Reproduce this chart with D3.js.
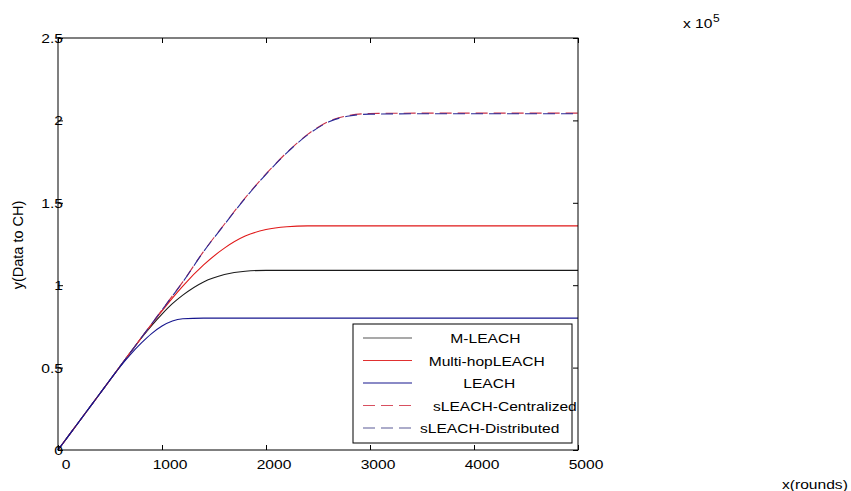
<!DOCTYPE html>
<html><head><meta charset="utf-8">
<script src="https://cdn.jsdelivr.net/npm/d3@7/dist/d3.min.js"></script>
<style>
html,body{margin:0;padding:0;background:#fff;}
text{font-family:"Liberation Sans",Arial,sans-serif;fill:#000;}
</style></head>
<body>
<svg id="c" width="851" height="491"></svg>
<script>
const rounds = [0, 200, 400, 600, 700, 800, 900, 1000, 1100, 1200, 1400, 1600, 1800, 2000, 2200, 2400, 2600, 2800, 3000, 3500, 4000, 4500, 5000];
const mLeach = [0, 17000, 34000, 51000, 59500, 67800, 75500, 82500, 88800, 94000, 102000, 106500, 108500, 109000, 109000, 109000, 109000, 109000, 109000, 109000, 109000, 109000, 109000];
const multiHop = [0, 17000, 34000, 51000, 59500, 68000, 76300, 84400, 92200, 99500, 112300, 122500, 129800, 133800, 135500, 136000, 136000, 136000, 136000, 136000, 136000, 136000, 136000];
const leach = [0, 17000, 34000, 50800, 58200, 64800, 70600, 75200, 78300, 79600, 80000, 80000, 80000, 80000, 80000, 80000, 80000, 80000, 80000, 80000, 80000, 80000, 80000];
const sCentral = [0, 17000, 34000, 51000, 59500, 68000, 76500, 85000, 93500, 102000, 120500, 137000, 153000, 167500, 180500, 191500, 199300, 203000, 204200, 204400, 204400, 204400, 204400];
const sDistrib = [0, 17000, 34000, 51000, 59500, 68000, 76500, 85000, 93400, 101900, 120400, 136800, 152800, 167300, 180300, 191200, 199000, 202700, 203800, 204000, 204000, 204000, 204000];
const xTicks = [0, 1000, 2000, 3000, 4000, 5000];
const yTicks = [0, 50000, 100000, 150000, 200000, 250000];
const yTickLabels = ["0", "0.5", "1", "1.5", "2", "2.5"];
const seriesNames = ["M-LEACH", "Multi-hopLEACH", "LEACH", "sLEACH-Centralized", "sLEACH-Distributed"];
const legendLabels = ["       M-LEACH", "  Multi-hopLEACH", "          LEACH", "   sLEACH-Centralized", "sLEACH-Distributed"];

const series = [
  {name: seriesNames[0], values: mLeach, color: "#1a1a1a", lcolor: "#555", dash: null, off: 0},
  {name: seriesNames[1], values: multiHop, color: "#e01818", lcolor: "#e03030", dash: null, off: 0},
  {name: seriesNames[3], values: sCentral, color: "#c83048", lcolor: "#d85060", dash: "12,6", off: 0},
  {name: seriesNames[4], values: sDistrib, color: "#2a2a98", lcolor: "#5a5a96", dash: "12,6", off: 5},
  {name: seriesNames[2], values: leach, color: "#16168e", lcolor: "#16168e", dash: null, off: 0}
];
const legendOrder = [0, 1, 4, 2, 3];

const SX = 1.2, FS = 13;
const svg = d3.select("#c");
const L = 58, R = 578, T = 38, B = 450;
const x = d3.scaleLinear().domain([0, 5000]).range([L, R]);
const y = d3.scaleLinear().domain([0, 250000]).range([B, T]);

function txt(g, tx, ty, s, anchor, size) {
  return g.append("text")
    .attr("transform", `translate(${tx},${ty}) scale(${SX},1)`)
    .attr("font-size", size || FS)
    .attr("text-anchor", anchor || "start")
    .style("white-space", "pre")
    .text(s);
}

// lines
const line = d3.line().x((d, i) => x(rounds[i])).y(d => y(d)).curve(d3.curveMonotoneX);
series.forEach(s => {
  svg.append("path").attr("d", line(s.values))
    .attr("fill", "none").attr("stroke", s.color).attr("stroke-width", 1.1)
    .attr("stroke-dasharray", s.dash).attr("stroke-dashoffset", s.off);
});

// axes ticks (inward)
const axG = svg.append("g");
axG.append("g").attr("transform", `translate(0,${B})`).call(d3.axisBottom(x).tickValues(xTicks).tickSize(-5).tickFormat(""));
axG.append("g").attr("transform", `translate(0,${T})`).call(d3.axisTop(x).tickValues(xTicks).tickSize(-5).tickFormat(""));
axG.append("g").attr("transform", `translate(${L},0)`).call(d3.axisLeft(y).tickValues(yTicks).tickSize(-5).tickFormat(""));
axG.append("g").attr("transform", `translate(${R},0)`).call(d3.axisRight(y).tickValues(yTicks).tickSize(-5).tickFormat(""));
axG.selectAll(".domain").remove();
axG.selectAll(".tick line").attr("stroke", "#000");
svg.append("rect").attr("x", L).attr("y", T).attr("width", R - L).attr("height", B - T)
  .attr("fill", "none").attr("stroke", "#000").attr("stroke-width", 1);

// tick labels
xTicks.forEach(v => txt(svg, x(v) + 8, 469, String(v), "middle"));
yTicks.forEach((v, i) => txt(svg, 63, y(v) + 5, yTickLabels[i], "end"));

// exponent
txt(svg, 683, 28, "x 10", "start");
txt(svg, 713, 22, "5", "start", 10);

// axis titles
txt(svg, 782, 489, "x(rounds)", "start");
svg.append("text")
  .attr("transform", `translate(23,245) rotate(-90)`)
  .attr("font-size", 14.5).attr("text-anchor", "middle")
  .text("y(Data to CH)");

// legend
const lg = svg.append("g");
lg.append("rect").attr("x", 353).attr("y", 324).attr("width", 219).attr("height", 119)
  .attr("fill", "#fff").attr("stroke", "#000").attr("stroke-width", 1);
legendOrder.forEach((si, i) => {
  const s = series[si];
  const ly = 338 + i * 22.5;
  lg.append("line").attr("x1", 363).attr("x2", 412).attr("y1", ly).attr("y2", ly)
    .attr("stroke", s.lcolor).attr("stroke-width", 1.1).attr("stroke-dasharray", s.dash);
  txt(lg, 420, ly + 5, legendLabels[i], "start");
});
</script>
</body></html>
